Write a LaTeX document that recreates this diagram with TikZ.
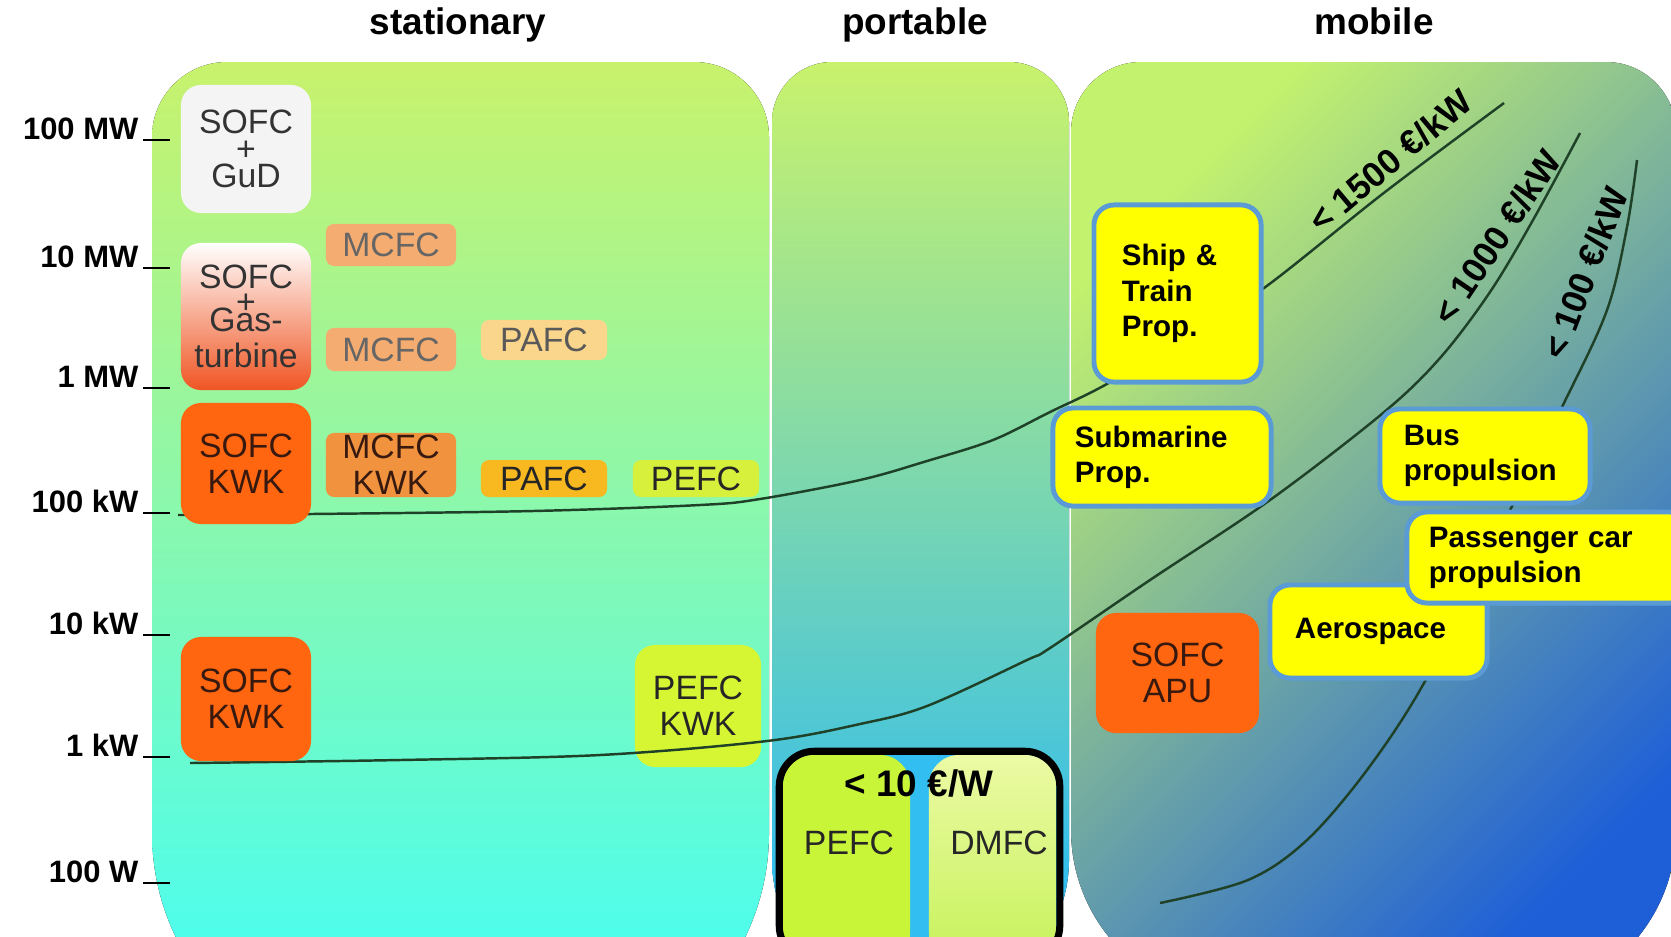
\documentclass[tikz,border=0pt]{standalone}
\usepackage{fontspec}
\setmainfont{Liberation Sans}

\definecolor{stattop}{RGB}{200,242,108}
\definecolor{statmid}{RGB}{145,250,200}
\definecolor{statbot}{RGB}{60,255,255}
\definecolor{porttop}{RGB}{200,242,108}
\definecolor{portmid}{RGB}{120,222,210}
\definecolor{portbot}{RGB}{30,182,255}
\definecolor{mobtop}{RGB}{195,242,110}
\definecolor{mobmid}{RGB}{140,198,168}
\definecolor{mobbot}{RGB}{30,95,215}
\definecolor{sofcorange}{RGB}{255,102,15}
\definecolor{sofctext}{RGB}{55,25,15}
\definecolor{gudgray}{RGB}{244,244,244}
\definecolor{gasmid}{RGB}{250,190,165}
\definecolor{gasbot}{RGB}{240,85,35}
\definecolor{mcfclight}{RGB}{245,172,112}
\definecolor{pafclight}{RGB}{250,214,140}
\definecolor{mcfcdark}{RGB}{240,146,62}
\definecolor{pafcdark}{RGB}{248,184,32}
\definecolor{pefcgreen}{RGB}{214,240,60}
\definecolor{pefclime}{RGB}{214,246,52}
\definecolor{halfgreen}{RGB}{200,245,55}
\definecolor{dmfctop}{RGB}{236,250,165}
\definecolor{dmfcbot}{RGB}{198,242,90}
\definecolor{portgap}{RGB}{50,190,240}
\definecolor{appblue}{RGB}{91,155,213}
\definecolor{appyellow}{RGB}{255,255,0}
\definecolor{costgreen}{RGB}{30,65,40}

\begin{document}
\begin{tikzpicture}[x=0.01cm, y=-0.01cm,
          hdr/.style={font=\fontsize{10.5}{12}\selectfont\bfseries, anchor=base, inner sep=0pt},
          scale label/.style={font=\fontsize{8.8}{10}\selectfont\bfseries, anchor=base east, inner sep=0pt},
          tick/.style={line width=0.6pt},
          cell/.style={rounded corners=0.2cm, align=center, inner sep=0pt, text=black!80,
                       font=\fontsize{9.6}{10.3}\selectfont},
          small cell/.style={cell, rounded corners=0.08cm},
          half/.style={minimum width=1.27cm, minimum height=2.08cm, rounded corners=0.3cm, inner sep=0pt},
          app/.style={draw=appblue, line width=1.4pt, fill=appyellow, rounded corners=0.2cm,
                      align=left, inner ysep=0pt, font=\fontsize{8.4}{10}\selectfont\bfseries},
          cost/.style={line width=0.7pt, draw=costgreen},
          cost label/.style={font=\fontsize{10}{12}\selectfont\bfseries, inner sep=0pt}]
        \useasboundingbox (0,0) rectangle (1671,936);
        \fill[white] (0,0) rectangle (1671,936);

        % three application panels
        \fill[top color=stattop, middle color=statmid, bottom color=statbot]
          (152,500) [rounded corners=0.75cm] -- (152,62) -- (769,62) -- (769,500)
          [rounded corners=2.4cm] -- (769,1073) -- (152,1073) -- cycle;
        \fill[top color=porttop, middle color=portmid, bottom color=portbot]
          (772,500) [rounded corners=0.6cm] -- (772,62) -- (1069,62) -- (1069,500)
          [rounded corners=1.4cm] -- (1069,1000) -- (772,1000) -- cycle;
        \fill[top color=mobtop, middle color=mobmid, bottom color=mobbot, shading angle=45]
          (1071,500) [rounded corners=0.7cm] -- (1071,62) -- (1676,62) -- (1676,500)
          [rounded corners=1.7cm] -- (1676,1000) -- (1071,1000) -- cycle;

        \node[hdr] (stat) at (458,34) {stationary};
        \node[hdr] (port) at (915,34) {portable};
        \node[hdr] (mob) at (1374,34) {mobile};

        % power scale
        \foreach \y/\txt [count=\i] in {140/100 MW,268/10 MW,388/1 MW,513/100 kW,635/10 kW,757/1 kW,883/100 W}{
          \node[scale label] (lvl\i) at (139,\y-1) {\txt};
          \draw[tick] ([shift={(4,1)}]lvl\i.base east) -- ++(27,0);
        }

        \node[cell, fill=pefclime, text=black!85, minimum width=1.26cm, minimum height=1.22cm] (pefckwk) at (698,706) {PEFC\\KWK};

        % cost lines
        \draw[cost] plot[smooth, tension=0.55] coordinates {(178,515) (311,514) (533,511) (700,505) (760,499)
          (860,480) (927,461) (993,440) (1050,412) (1105,385) (1185,337) (1264,288) (1385,192) (1504,103)};
        \draw[cost] plot[smooth, tension=0.55] coordinates {(190,763) (400,760) (600,755) (767,741) (860,724)
          (927,706) (1027,660) (1050,648) (1150,580) (1270,500) (1383,413) (1440,358) (1490,292)
          (1533,220) (1580,133)};
        \draw[cost] plot[smooth, tension=0.55] coordinates {(1160,903) (1248,880) (1307,840) (1367,770)
          (1424,683) (1490,550) (1563,405) (1607,310) (1627,227) (1637,160)};

        % stationary
        \node[cell, fill=gudgray, minimum width=1.30cm, minimum height=1.28cm] (gud) at (246,149) {SOFC\\[-2.6pt]+\\[-2.6pt]GuD};
        \node[cell, top color=white, middle color=gasmid, bottom color=gasbot, minimum width=1.30cm, minimum height=1.47cm] (gasturb) at (246,316.5) {SOFC\\[-3.3pt]+\\[-5pt]Gas-\\turbine};
        \node[cell, fill=sofcorange, text=sofctext, minimum width=1.30cm, minimum height=1.21cm] (sofckwkA) at (246,463.5) {SOFC\\KWK};
        \node[cell, fill=sofcorange, text=sofctext, minimum width=1.30cm, minimum height=1.24cm] (sofckwkB) at (246,699) {SOFC\\KWK};
        \node[small cell, fill=mcfclight, text=black!60, minimum width=1.30cm, minimum height=0.42cm] (mcfcA) at (391,245) {MCFC};
        \node[small cell, fill=mcfclight, text=black!60, minimum width=1.30cm, minimum height=0.43cm] (mcfcB) at (391,349.5) {MCFC};
        \node[small cell, fill=pafclight, text=black!65, minimum width=1.26cm, minimum height=0.40cm] (pafcA) at (544,340) {PAFC};
        \node[small cell, fill=mcfcdark, text=sofctext, minimum width=1.30cm, minimum height=0.64cm] (mcfckwk) at (391,465) {MCFC\\KWK};
        \node[small cell, fill=pafcdark, text=black!85, minimum width=1.26cm, minimum height=0.37cm] (pafcB) at (544,478.5) {PAFC};
        \node[small cell, fill=pefcgreen, text=black!85, minimum width=1.26cm, minimum height=0.37cm] (pefc) at (696,478.5) {PEFC};

        % portable
        \node[fill=portgap, rounded corners=0.35cm, minimum width=2.79cm, minimum height=2.08cm, inner sep=0pt] (portbox) at (919.5,856) {};
        \node[half, fill=halfgreen] (pefchalf) at (846.5,859) {};
        \node[half, top color=dmfctop, bottom color=dmfcbot] (dmfchalf) at (992.5,859) {};
        \draw[line width=2pt, rounded corners=0.35cm] (portbox.north west) rectangle (portbox.south east);
        \node[font=\fontsize{10.5}{12}\selectfont\bfseries, inner sep=0pt] (price) at (919,783) {< 10 €/W};
        \node[cell, text=black!85] (pefcname) at (849,843) {PEFC};
        \node[cell, text=black!85] (dmfcname) at (999,843) {DMFC};

        % mobile
        \node[cell, fill=sofcorange, text=sofctext, minimum width=1.63cm, minimum height=1.20cm] (apu) at (1177.5,673) {SOFC\\APU};
        \node[app, minimum width=1.67cm, minimum height=1.77cm, text width=1.11cm, inner xsep=0.28cm] (ship) at (1177.5,293.5) {Ship \&\\Train\\Prop.};
        \node[app, minimum width=2.18cm, minimum height=0.98cm, text width=1.74cm, inner xsep=0.22cm] (sub) at (1162,457) {Submarine\\Prop.};
        \node[app, minimum width=2.10cm, minimum height=0.94cm, text width=1.62cm, inner xsep=0.24cm] (bus) at (1485,456) {Bus\\propulsion};
        \node[app, minimum width=2.17cm, minimum height=0.93cm, text width=1.67cm, inner xsep=0.25cm] (aero) at (1378.5,631.5) {Aerospace};
        \node[app, minimum width=2.83cm, minimum height=0.91cm, text width=2.39cm, inner xsep=0.22cm] (car) at (1548.5,557.5) {Passenger car\\propulsion};

        \node[cost label, rotate=40] (c1500) at (1390,161) {< 1500 €/kW};
        \node[cost label, rotate=56] (c1000) at (1497,237) {< 1000 €/kW};
        \node[cost label, rotate=69] (c100) at (1585,273) {< 100 €/kW};
      \end{tikzpicture}
\end{document}
